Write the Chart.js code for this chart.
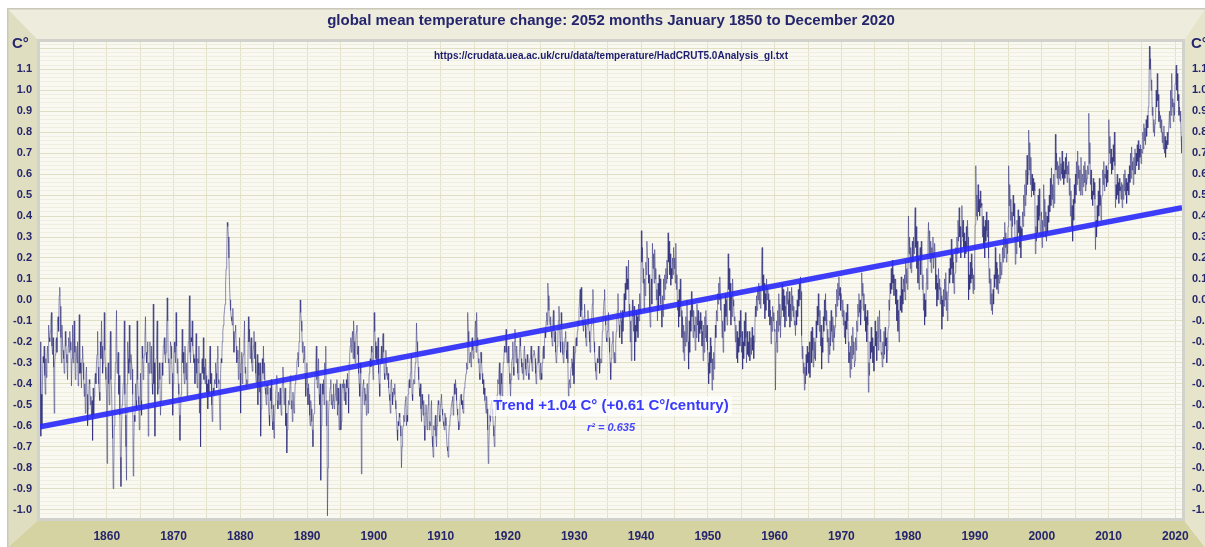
<!DOCTYPE html>
<html>
<head>
<meta charset="utf-8">
<title>global mean temperature change</title>
<script src="https://cdn.jsdelivr.net/npm/chart.js@4.4.1/dist/chart.umd.min.js"></script>
<style>
  html, body { margin: 0; padding: 0; background: #fff; }
  #wrap { width: 1205px; height: 547px; }
</style>
</head>
<body>
<div id="wrap"><canvas id="tempChart" width="1205" height="547"></canvas></div>
<script>
// Monthly anomalies in hundredths of a degree, one row (Jan..Dec) per year from 1850
const firstYear = 1850;
const monthlyRows = [
  [-20,-65,-45,-60,-38,-27,-30,-22,-36,-45,-28,-37],
  [-28,-22,-30,-12,-18,-20,-15,-10,-6,-22,-26,-18],
  [-32,-54,-30,-26,-20,-18,-25,-10,-8,-15,2,6],
  [-3,-18,-30,-12,-20,-24,-28,-35,-30,-15,-22,-26],
  [-30,-38,-22,-18,-25,-15,-20,-24,-41,-28,-12,-30],
  [-18,-10,-25,-38,-22,-26,-30,-20,-41,-28,-7,-35],
  [-30,-35,-42,-28,-22,-30,-38,-46,-40,-54,-35,-32],
  [-45,-60,-52,-48,-38,-40,-50,-46,-55,-48,-67,-42],
  [-55,-46,-38,-35,-40,-30,-26,-15,-32,-40,-44,-48],
  [-20,-28,-10,-22,-35,-30,-28,-6,-24,-32,-38,-45],
  [-78,-35,-30,-40,-50,-25,-15,-38,-42,-55,-66,-90],
  [-83,-60,-42,-30,-20,-5,-35,-30,-25,-45,-36,-55],
  [-75,-89,-62,-50,-48,-40,-30,-10,-45,-55,-70,-86],
  [-40,-20,-28,-35,-12,-30,-38,-26,-30,-33,-45,-84],
  [-70,-55,-58,-40,-48,-52,-10,-38,-46,-50,-62,-55],
  [-35,-48,-55,-22,-28,-38,-30,-26,-18,-8,-25,-30],
  [-25,-20,-65,-30,-35,-20,-28,-35,-22,-40,-45,-2],
  [-40,-30,-65,-38,-28,-20,-10,-45,-42,-35,-30,-38],
  [-55,-48,-42,-30,-36,-22,-20,-18,-26,-30,-25,-15],
  [1,-10,-30,-28,-40,-35,-20,-22,-28,-35,-55,-40],
  [-26,-20,-25,-30,-6,-22,-35,-28,-40,-45,-55,-67],
  [-54,-45,-28,-14,-30,-25,-35,-40,-22,-33,-38,-30],
  [-46,-28,-20,-15,2,-25,-30,-18,-20,-10,-22,-26],
  [-30,-28,-40,-25,-16,-35,-42,-28,-30,-22,-54,-35],
  [-70,-40,-30,-28,-35,-18,-38,-32,-40,-28,-36,-44],
  [-40,-52,-38,-45,-30,-22,-40,-35,-50,-58,-44,-42],
  [-45,-38,-40,-30,-35,-42,-28,-22,-38,-40,-50,-62],
  [-35,-28,-30,-20,-15,-12,-8,-5,-2,8,15,20],
  [37,35,30,20,8,0,-5,-8,-10,-12,-4,-15],
  [-25,-20,-15,-12,-22,-30,-28,-24,-38,-32,-18,-35],
  [-54,-30,-25,-40,-28,-26,-20,-10,-35,-32,-42,-38],
  [-40,-32,-8,-20,-14,-28,-22,-18,-30,-34,-26,-22],
  [-15,-28,-20,-35,-40,-32,-26,-50,-30,-36,-44,-30],
  [-65,-52,-40,-28,-35,-22,-38,-30,-42,-45,-50,-40],
  [-45,-40,-50,-55,-60,-42,-48,-38,-52,-58,-62,-50],
  [-66,-58,-50,-45,-40,-36,-48,-52,-44,-50,-46,-42],
  [-50,-55,-45,-40,-32,-38,-50,-45,-42,-60,-54,-73],
  [-62,-55,-48,-50,-45,-38,-36,-52,-48,-58,-44,-50],
  [-54,-48,-40,-38,-35,-30,-28,-25,-32,-20,-15,0],
  [-6,-10,-15,-25,-20,-30,-28,-22,-35,-46,-40,-30],
  [-42,-50,-40,-45,-55,-60,-48,-52,-58,-62,-70,-55],
  [-54,-40,-35,-30,-22,-38,-42,-36,-28,-45,-50,-40],
  [-86,-60,-55,-40,-45,-38,-50,-30,-35,-22,-60,-48],
  [-103,-80,-55,-48,-45,-42,-38,-50,-45,-52,-48,-40],
  [-52,-50,-45,-40,-48,-38,-55,-42,-50,-62,-45,-40],
  [-62,-58,-45,-40,-42,-38,-48,-40,-44,-50,-38,-42],
  [-35,-42,-54,-30,-26,-22,-18,-25,-20,-15,-28,-10],
  [-20,-28,-30,-18,-15,-12,-26,-22,-35,-40,-46,-30],
  [-35,-83,-60,-45,-40,-38,-50,-42,-45,-48,-55,-40],
  [-40,-54,-45,-35,-30,-28,-32,-22,-25,-30,-38,-26],
  [-6,-15,-20,-28,-22,-30,-25,-18,-35,-40,-46,-30],
  [-28,-22,-30,-18,-16,-25,-35,-38,-30,-24,-32,-36],
  [-38,-35,-42,-45,-48,-54,-40,-38,-44,-50,-46,-42],
  [-45,-40,-48,-52,-55,-62,-67,-58,-60,-54,-56,-60],
  [-65,-80,-70,-62,-60,-55,-58,-52,-48,-46,-60,-55],
  [-58,-45,-40,-38,-42,-35,-30,-26,-45,-48,-40,-38],
  [-40,-35,-30,-28,-11,-20,-25,-32,-38,-42,-46,-40],
  [-52,-58,-45,-50,-55,-48,-60,-67,-54,-50,-56,-62],
  [-55,-50,-45,-62,-58,-60,-52,-48,-65,-70,-75,-60],
  [-62,-58,-55,-65,-70,-60,-52,-48,-50,-55,-58,-50],
  [-48,-45,-52,-55,-58,-60,-62,-54,-56,-60,-65,-70],
  [-72,-75,-65,-60,-58,-55,-52,-50,-48,-46,-55,-50],
  [-40,-45,-38,-42,-48,-52,-55,-58,-62,-60,-50,-46],
  [-45,-50,-48,-52,-54,-46,-42,-40,-38,-35,-30,-33],
  [-6,-15,-22,-30,-28,-25,-32,-20,-18,-24,-28,-22],
  [-20,-15,-10,-25,-6,-18,-22,-30,-28,-35,-38,-25],
  [-25,-30,-35,-40,-38,-45,-42,-48,-50,-54,-46,-52],
  [-62,-78,-70,-60,-55,-58,-50,-48,-52,-55,-60,-65],
  [-70,-62,-55,-48,-50,-45,-38,-40,-35,-30,-45,-50],
  [-35,-40,-46,-38,-30,-28,-22,-25,-20,-14,-25,-30],
  [-25,-22,-30,-35,-40,-46,-38,-30,-28,-20,-32,-36],
  [-20,-14,-25,-30,-22,-28,-35,-38,-30,-25,-18,-22],
  [-28,-32,-35,-30,-38,-25,-22,-28,-33,-36,-30,-26],
  [-30,-35,-38,-32,-28,-25,-22,-30,-34,-28,-26,-24],
  [-25,-28,-35,-40,-32,-30,-26,-22,-30,-35,-38,-30],
  [-35,-38,-30,-25,-22,-28,-20,-15,-18,-10,-6,-12],
  [8,2,-5,-10,-12,-8,-15,-18,-22,-10,-5,-14],
  [-20,-15,-25,-30,-28,-22,-18,-10,-3,-12,-20,-25],
  [-6,-12,-20,-26,-30,-28,-22,-18,-15,-24,-28,-20],
  [-30,-46,-40,-38,-42,-35,-32,-28,-30,-36,-22,-40],
  [-30,-25,-20,-18,-22,-15,-10,-12,-5,0,5,-8],
  [6,-5,-10,-12,-15,-8,-2,-10,-18,-22,-14,-12],
  [-5,-10,-15,-20,-25,-18,-12,-8,-2,5,-10,-20],
  [-25,-30,-34,-38,-32,-28,-30,-26,-22,-35,-30,-28],
  [-30,-25,-15,-10,-5,0,5,-8,-12,-18,-20,-15],
  [-10,-6,-18,-25,-30,-38,-28,-22,-20,-15,-25,-30],
  [-25,-30,-20,-15,-10,-5,3,-8,-12,-18,-10,-5],
  [-10,-21,-5,-15,-8,3,-6,8,0,16,5,10],
  [5,19,-8,-2,-20,-10,-29,-12,0,-8,-15,-3],
  [-29,-12,-20,-5,-15,-8,-18,-2,-10,3,-6,0],
  [33,18,25,8,15,-5,10,2,18,12,28,20],
  [20,8,12,-5,-13,5,10,-2,27,15,22,8],
  [24,10,15,0,5,-10,8,-5,12,2,10,-2],
  [-5,-13,2,-8,10,0,12,5,15,8,19,10],
  [32,18,28,12,22,7,15,10,20,12,25,15],
  [20,8,27,5,12,-5,0,-13,5,-8,10,-3],
  [-5,-18,-8,-25,-12,-29,-15,-22,-8,-20,0,-15],
  [-20,-33,-10,-25,-5,-15,4,-8,0,-18,-5,-12],
  [-15,-24,-8,-18,-2,-12,-5,-20,-10,-16,-6,-14],
  [-10,-22,-15,-29,-12,-25,-8,-18,-5,-20,-12,-24],
  [-30,-40,-25,-35,-18,-30,-22,-43,-28,-38,-25,-33],
  [-25,-12,-18,-5,-10,3,-2,8,0,11,2,-5],
  [-5,-18,-10,-25,-12,-2,-15,3,-8,0,-12,-4],
  [22,5,15,-5,8,-12,2,-8,10,0,-3,-10],
  [-8,-20,-12,-28,-15,-30,-18,-25,-10,-22,-5,-18],
  [-25,-15,-33,-20,-28,-10,-22,-6,-18,-30,-15,-26],
  [-20,-27,-15,-29,-22,-18,-26,-13,-24,-17,-28,-20],
  [-13,-3,-8,2,-5,5,0,8,-2,6,-4,3],
  [15,25,5,12,-2,8,-9,3,-5,10,0,6],
  [3,-8,0,-12,-5,-21,-8,-15,-3,-10,-6,-14],
  [-15,-43,-20,-10,-25,-5,-15,3,-12,-2,-18,-8],
  [0,8,-5,5,-8,2,-13,-3,-10,4,-2,6],
  [0,-8,4,-13,-2,-10,6,-5,2,-8,-3,-12],
  [-10,-17,-5,-12,0,-8,5,-3,8,0,11,4],
  [-17,-28,-22,-35,-30,-43,-32,-40,-26,-36,-22,-30],
  [-25,-35,-20,-37,-28,-15,-30,-13,-24,-32,-18,-28],
  [-20,-29,-10,-18,-3,-12,3,-8,-15,-5,-22,-12],
  [-33,-18,-25,-8,-15,0,-10,3,-12,-5,-20,-14],
  [-30,-18,-26,-10,-22,-5,-15,-20,-8,-24,-12,-18],
  [-13,-2,-8,5,-3,8,0,11,2,6,-5,3],
  [3,-8,0,-12,-5,-18,-10,-21,-6,-14,-2,-10],
  [-20,-30,-25,-37,-22,-33,-17,-28,-13,-26,-20,-32],
  [-29,-18,-24,-10,-15,-2,-8,3,-6,0,-12,-4],
  [13,2,8,-5,3,-10,-2,-15,-8,-20,-5,-12],
  [-44,-30,-36,-20,-28,-13,-25,-18,-30,-22,-34,-26],
  [-10,-22,-15,-29,-18,-8,-24,-12,-5,-20,-14,-26],
  [-25,-32,-20,-28,-15,-26,-13,-22,-18,-30,-24,-16],
  [-13,0,-5,8,3,15,5,19,8,12,2,10],
  [10,-2,5,-10,0,-15,-5,-20,-8,2,-5,11],
  [-6,5,-2,10,4,12,0,19,8,15,5,14],
  [40,22,30,15,25,13,20,28,18,30,22,35],
  [44,25,35,15,28,8,20,5,18,25,12,28],
  [20,5,12,-5,3,-12,0,-8,8,15,5,28],
  [37,22,33,18,28,13,25,20,30,15,22,27],
  [20,5,12,-3,8,0,15,5,10,-2,6,2],
  [-14,0,-8,5,-3,10,0,13,-5,4,-10,0],
  [5,15,8,20,12,29,15,22,8,18,3,12],
  [13,25,18,30,22,38,28,44,30,35,20,28],
  [45,30,38,25,32,20,28,22,35,25,38,30],
  [0,12,5,18,8,22,10,15,3,12,5,18],
  [36,64,40,50,38,55,42,48,40,52,44,46],
  [45,30,40,25,35,20,38,28,42,33,30,38],
  [20,8,15,-2,10,-5,3,-7,5,-2,12,6],
  [25,10,18,5,15,3,12,8,22,10,18,12],
  [13,25,18,30,20,37,25,32,18,28,22,35],
  [64,45,55,38,48,30,42,35,50,40,46,36],
  [17,30,22,38,28,43,32,40,25,35,20,34],
  [30,42,35,50,40,55,45,62,50,69,55,60],
  [81,62,75,55,68,49,60,52,58,50,56,52],
  [22,35,28,45,32,50,38,53,40,30,36,42],
  [25,38,30,55,35,48,30,42,28,40,32,45],
  [37,50,42,58,45,63,48,55,44,60,46,52],
  [79,62,70,58,66,55,64,58,68,57,65,60],
  [71,58,66,55,62,58,68,60,70,56,64,60],
  [66,50,58,40,52,35,45,28,48,38,55,46],
  [60,50,66,55,71,58,64,52,62,50,68,56],
  [50,60,54,64,56,66,52,62,55,58,64,60],
  [89,65,75,55,62,48,52,45,58,50,56,48],
  [24,38,30,45,35,52,40,58,45,50,38,48],
  [50,62,55,66,52,60,58,64,54,62,56,65],
  [86,70,78,65,72,60,68,62,74,66,80,64],
  [44,55,48,60,50,56,46,58,52,54,48,56],
  [44,55,48,60,52,62,50,58,46,56,52,60],
  [50,64,56,70,58,73,62,66,55,68,60,72],
  [60,70,64,74,66,76,62,72,68,74,65,72],
  [70,80,72,84,76,82,74,86,78,88,82,92],
  [95,121,110,115,100,105,88,92,80,86,78,84],
  [88,100,92,108,95,98,85,90,82,88,80,86],
  [75,80,72,83,70,78,68,76,72,80,74,78],
  [78,90,82,100,88,108,92,96,85,94,88,103],
  [105,112,100,108,95,98,88,92,85,90,78,70]
];

const decadeLabels = [1860, 1870, 1880, 1890, 1900, 1910, 1920, 1930, 1940, 1950, 1960, 1970, 1980, 1990, 2000, 2010, 2020];
const yTickLabels = [-1.0, -0.9, -0.8, -0.7, -0.6, -0.5, -0.4, -0.3, -0.2, -0.1, 0.0, 0.1, 0.2, 0.3, 0.4, 0.5, 0.6, 0.7, 0.8, 0.9, 1.0, 1.1];
const trendYears = [1850, 2021];
const trendValues = [-0.605, 0.44];

const titleText = 'global mean temperature change: 2052 months January 1850 to December 2020';
const sourceText = 'https://crudata.uea.ac.uk/cru/data/temperature/HadCRUT5.0Analysis_gl.txt';
const trendText = 'Trend +1.04 C° (+0.61 C°/century)';
const r2Text = 'r² = 0.635';
const unitText = 'C°';

const FONT = "Arial, 'Liberation Sans', sans-serif";
const NAVY = '#25256d';

// flatten the rows into x/y points (month placed mid-month)
const tempPoints = [];
monthlyRows.forEach((row, yi) => {
    row.forEach((v, m) => {
        tempPoints.push({ x: firstYear + yi + (m + 0.5) / 12, y: v / 100 });
    });
});
const trendPoints = trendYears.map((yr, i) => ({ x: yr, y: trendValues[i] }));

// grid positions: every 5 years, every 0.02 degree
const gridYears = [];
for (let yr = 1855; yr <= 2020; yr += 5) gridYears.push(yr);
const gridTemps = [];
for (let k = -52; k <= 61; k++) gridTemps.push(Math.round(k * 2) / 100);

const labelFor = v => {
    const hit = yTickLabels.find(l => Math.abs(l - v) < 1e-6);
    return hit === undefined ? '' : hit.toFixed(1);
};
const isMajor = v => yTickLabels.some(l => Math.abs(l - v) < 1e-6) || Math.abs(v - 1.2) < 1e-6;

const poly = (ctx, color, pts) => {
    ctx.beginPath();
    pts.forEach((p, i) => i ? ctx.lineTo(p[0], p[1]) : ctx.moveTo(p[0], p[1]));
    ctx.closePath();
    ctx.fillStyle = color;
    ctx.fill();
};

// beveled beige frame and plot background
const framePlugin = {
    id: 'frame',
    beforeDraw(chart) {
        const { ctx, width: w, height: h } = chart;
        const a = chart.chartArea;
        const L = a.left - 2, R = a.right + 2, T = a.top - 2, B = a.bottom + 2;
        ctx.save();
        ctx.fillStyle = '#ffffff';
        ctx.fillRect(0, 0, w, h);
        poly(ctx, '#edecdd', [[8, 9], [w, 9], [R, T], [L, T]]);
        poly(ctx, '#e0dec0', [[8, 9], [L, T], [L, B], [8, h]]);
        poly(ctx, '#d6d3a3', [[8, h], [L, B], [R, B], [w, h]]);
        poly(ctx, '#e6e4ca', [[w, 9], [R, T], [R, B], [w, h]]);
        ctx.fillStyle = '#c9c8b8';
        ctx.fillRect(8, 8, w - 8, 1.5);
        ctx.fillRect(7, 8, 1.5, h - 8);
        ctx.fillStyle = '#f9f9f1';
        ctx.fillRect(a.left, a.top, a.right - a.left, a.bottom - a.top);
        ctx.restore();
    },
    afterDraw(chart) {
        const { ctx } = chart;
        const a = chart.chartArea;
        const cx = (a.left + a.right) / 2;
        ctx.save();
        // plot border
        ctx.strokeStyle = '#d2d2cc';
        ctx.lineWidth = 3;
        ctx.strokeRect(a.left - 1.5, a.top - 1.5, a.right - a.left + 3, a.bottom - a.top + 3);

        ctx.fillStyle = NAVY;
        ctx.textBaseline = 'middle';
        ctx.font = 'bold 15px ' + FONT;
        ctx.textAlign = 'left';
        ctx.fillText(unitText, 12, 44);
        ctx.fillText(unitText, 1191, 44);

        ctx.textAlign = 'center';
        ctx.font = 'bold 10px ' + FONT;
        ctx.fillStyle = '#1d1d6e';
        ctx.fillText(sourceText, cx, 56);

        ctx.font = 'bold 15px ' + FONT;
        const tw = ctx.measureText(trendText).width;
        ctx.fillStyle = 'rgba(255,255,255,0.7)';
        ctx.fillRect(cx - tw / 2 - 3, 396, tw + 6, 20);
        ctx.fillStyle = '#3a3aff';
        ctx.fillText(trendText, cx, 406);

        ctx.font = 'italic bold 11px ' + FONT;
        ctx.fillStyle = '#4646ff';
        ctx.fillText(r2Text, cx, 428);
        ctx.restore();
    }
};

const tickFont = { family: FONT, size: 11, weight: 'bold' };

const tempChart = new Chart(document.getElementById('tempChart'), {
    type: 'line',
    data: {
        datasets: [
            {
                label: 'Trend',
                data: trendPoints,
                borderColor: 'rgba(40,40,250,0.9)',
                borderWidth: 5.5,
                pointRadius: 0,
                borderCapStyle: 'butt'
            },
            {
                label: 'HadCRUT5 monthly',
                data: tempPoints,
                borderColor: 'rgba(38,38,120,0.5)',
                borderWidth: 1,
                pointRadius: 0,
                tension: 0
            }
        ]
    },
    options: {
        responsive: false,
        animation: false,
        events: [],
        layout: { padding: 0 },
        plugins: {
            legend: { display: false },
            tooltip: { enabled: false },
            title: {
                display: true,
                fullSize: false,
                text: titleText,
                color: NAVY,
                font: { family: FONT, size: 15, weight: 'bold' },
                padding: { top: 12, bottom: 12 }
            }
        },
        scales: {
            x: {
                type: 'linear',
                min: 1850,
                max: 2021,
                afterBuildTicks: s => { s.ticks = gridYears.map(v => ({ value: v })); },
                afterFit: s => { s.height = 29; },
                grid: { color: '#e3e1c7', drawTicks: false },
                border: { display: false },
                ticks: {
                    autoSkip: false,
                    maxRotation: 0,
                    padding: 11,
                    color: NAVY,
                    font: { family: FONT, size: 12, weight: 'bold' },
                    callback: v => decadeLabels.includes(v) ? String(v) : ''
                }
            },
            y: {
                position: 'left',
                min: -1.04,
                max: 1.23,
                afterBuildTicks: s => { s.ticks = gridTemps.map(v => ({ value: v })); },
                afterFit: s => { s.width = 40; },
                grid: {
                    color: c => isMajor(c.tick.value) ? '#e0dec3' : '#efeee0',
                    drawTicks: false
                },
                border: { display: false },
                ticks: { autoSkip: false, padding: 8, color: NAVY, font: tickFont, callback: v => labelFor(v) }
            },
            y2: {
                position: 'right',
                min: -1.04,
                max: 1.23,
                afterBuildTicks: s => { s.ticks = gridTemps.map(v => ({ value: v })); },
                afterFit: s => { s.width = 23; },
                grid: { drawOnChartArea: false, drawTicks: false },
                border: { display: false },
                ticks: { autoSkip: false, padding: 10, color: NAVY, font: tickFont, callback: v => labelFor(v) }
            }
        }
    },
    plugins: [framePlugin]
});
</script>
</body>
</html>
